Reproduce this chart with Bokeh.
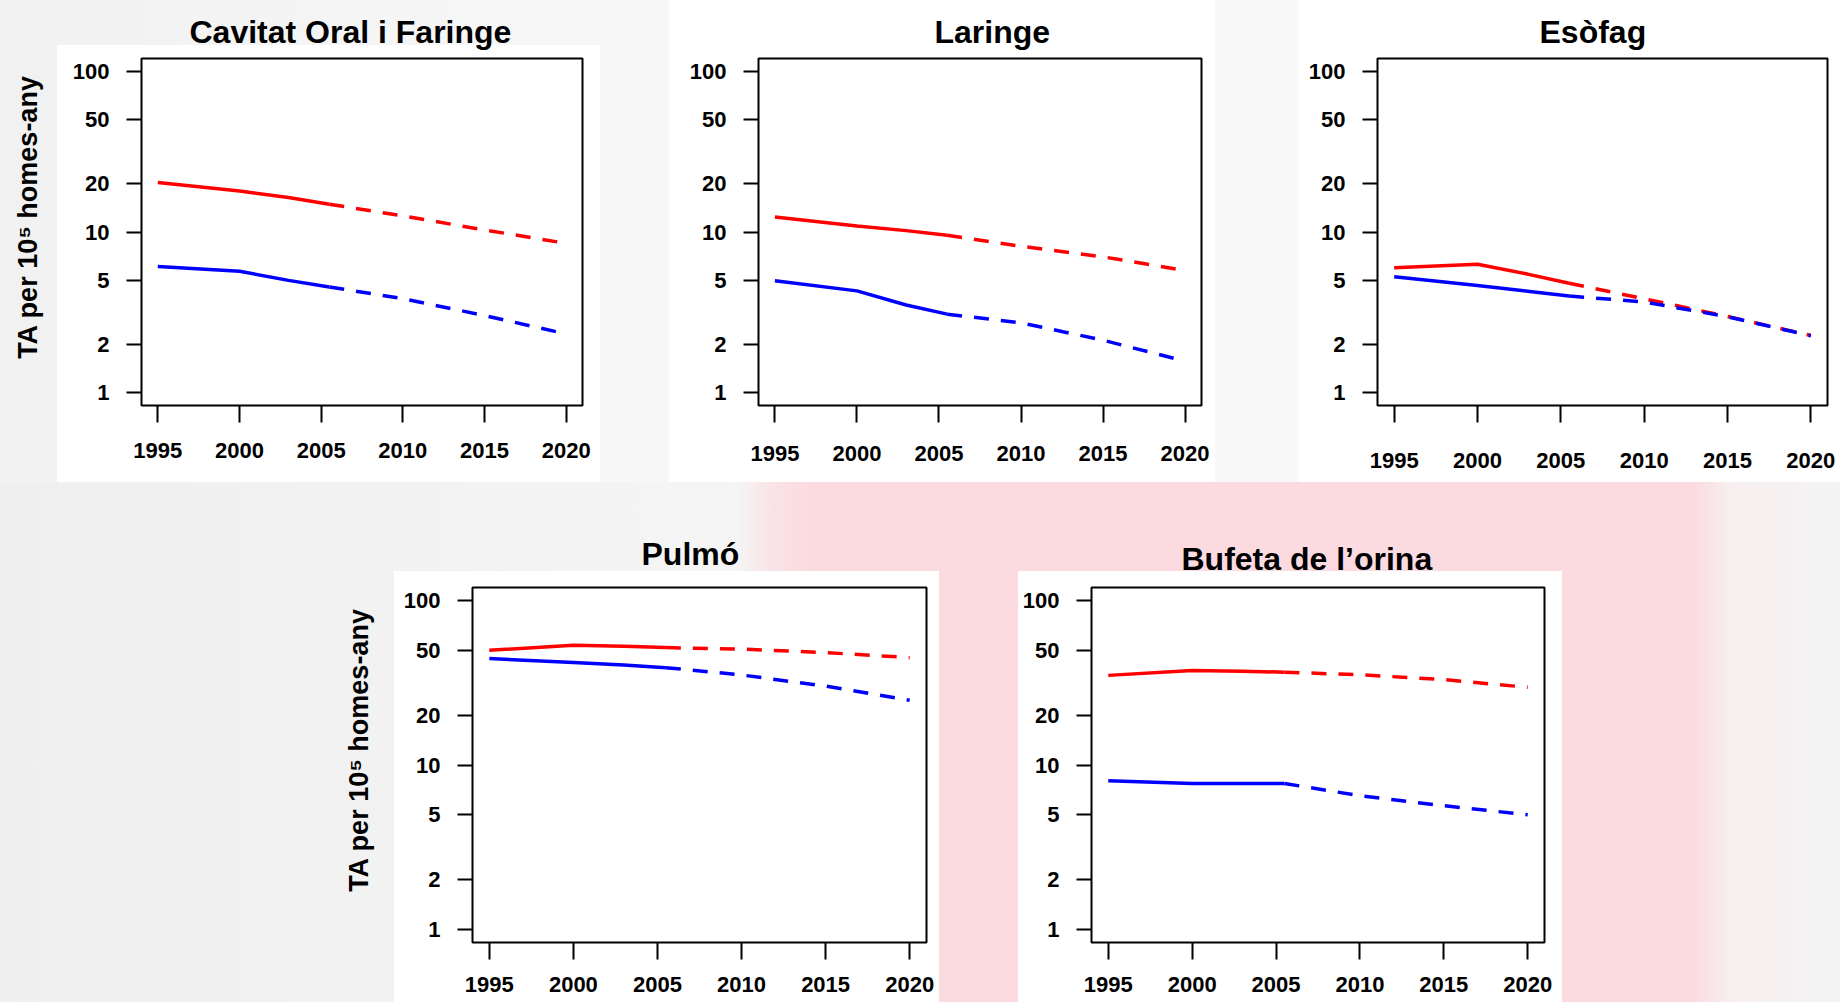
from bokeh.plotting import figure
from bokeh.layouts import row, column, Spacer
from bokeh.models import Range1d, FixedTicker
from bokeh.embed import file_html
from bokeh.resources import INLINE

# ---------------- data ----------------
obs_years = [1995, 2000, 2003, 2005.5]
proj_years = [2005.5, 2010, 2015, 2020]

titles = ["Cavitat Oral i Faringe", "Laringe", "Esòfag", "Pulmó", "Bufeta de l’orina"]

oral_red_obs = [20.3, 18.0, 16.4, 14.9]
oral_red_proj = [14.9, 12.6, 10.3, 8.5]
oral_blue_obs = [6.1, 5.7, 5.0, 4.55]
oral_blue_proj = [4.55, 3.85, 3.02, 2.32]

laringe_red_obs = [12.4, 10.9, 10.2, 9.55]
laringe_red_proj = [9.55, 8.15, 7.0, 5.76]
laringe_blue_obs = [4.97, 4.30, 3.51, 3.08]
laringe_blue_proj = [3.08, 2.72, 2.12, 1.57]

esofag_red_obs = [6.0, 6.3, 5.47, 4.8]
esofag_red_proj = [4.8, 3.84, 2.98, 2.27]
esofag_blue_obs = [5.27, 4.64, 4.28, 3.99]
esofag_blue_proj = [3.99, 3.67, 2.97, 2.26]

pulmo_red_obs = [49.9, 53.6, 52.8, 51.8]
pulmo_red_proj = [51.8, 50.7, 48.3, 45.0]
pulmo_blue_obs = [44.4, 42.0, 40.6, 39.1]
pulmo_blue_proj = [39.1, 35.3, 30.2, 24.8]

bufeta_red_obs = [35.1, 37.6, 37.2, 36.7]
bufeta_red_proj = [36.7, 35.4, 33.1, 29.7]
bufeta_blue_obs = [8.02, 7.72, 7.72, 7.72]
bufeta_blue_proj = [7.72, 6.5, 5.65, 4.98]

x_ticks = [1995, 2000, 2005, 2010, 2015, 2020]
y_ticks = [1, 2, 5, 10, 20, 50, 100]
y_label = "TA per 10⁵ homes-any"
PAD = "\u00a0" * 4  # nudges the centred axis title upward, as in the original

FONT = "Liberation Sans"
RED = "#ff0000"
BLUE = "#0000ff"


def panel(title, series, bl, frame_w, br, bt, frame_h, bb,
          title_offset, title_standoff,
          ylabel=False, x_label_standoff=20, white_x=0, white_y=0):
    width = bl + frame_w + br
    height = bt + frame_h + bb
    p = figure(width=width, height=height, y_axis_type="log",
               x_range=Range1d(1994, 2021),
               y_range=Range1d(10 ** -0.08, 10 ** 2.08),
               output_backend="svg", toolbar_location=None,
               min_border_left=bl, min_border_top=bt,
               min_border_right=br, min_border_bottom=bb,
               styles={"background-image": "linear-gradient(#ffffff, #ffffff)",
                       "background-repeat": "no-repeat",
                       "background-position": f"{white_x}px {white_y}px",
                       "background-size": f"{width - white_x}px {height - white_y}px"})
    p.title.text = title
    p.title.align = "left"
    p.title.offset = title_offset
    p.title.vertical_align = "bottom"
    p.title.standoff = title_standoff
    p.title.text_font = FONT
    p.title.text_font_style = "bold"
    p.title.text_font_size = "32px"
    p.title.text_color = "black"
    p.outline_line_color = "black"
    p.outline_line_width = 2
    p.background_fill_color = "white"
    p.border_fill_color = None
    p.xgrid.visible = False
    p.ygrid.visible = False

    p.xaxis.ticker = FixedTicker(ticks=x_ticks)
    p.yaxis.ticker = FixedTicker(ticks=y_ticks)
    p.yaxis.major_label_overrides = {t: str(t) for t in y_ticks}
    for ax in (p.xaxis[0], p.yaxis[0]):
        ax.axis_line_color = None
        ax.minor_tick_line_color = None
        ax.major_tick_line_color = "black"
        ax.major_tick_line_width = 2
        ax.major_tick_in = 0
        ax.major_label_text_font = FONT
        ax.major_label_text_font_style = "bold"
        ax.major_label_text_font_size = "22px"
        ax.major_label_text_color = "black"
    p.xaxis.major_tick_out = 17
    p.yaxis.major_tick_out = 15
    p.xaxis.major_label_standoff = x_label_standoff
    p.yaxis.major_label_standoff = 17
    if ylabel:
        p.yaxis.axis_label = PAD + y_label
        p.yaxis.axis_label_text_font = FONT
        p.yaxis.axis_label_text_font_style = "bold"
        p.yaxis.axis_label_text_font_size = "27px"
        p.yaxis.axis_label_text_color = "black"
        p.yaxis.axis_label_standoff = 27

    red_obs, red_proj, blue_obs, blue_proj = series
    p.line(obs_years, red_obs, line_color=RED, line_width=3.5)
    p.line(proj_years, red_proj, line_color=RED, line_width=3.5, line_dash="15 12")
    p.line(obs_years, blue_obs, line_color=BLUE, line_width=3.5)
    p.line(proj_years, blue_proj, line_color=BLUE, line_width=3.5, line_dash="15 12")
    return p


# Row 1 (page y 0..482); the plot frames of one row share top/bottom borders
H1 = 482
BT1, FH1 = 58, 347
BB1 = H1 - BT1 - FH1
p1 = panel(titles[0], (oral_red_obs, oral_red_proj, oral_blue_obs, oral_blue_proj),
           bl=141, frame_w=441, br=18, bt=BT1, frame_h=FH1, bb=BB1,
           title_offset=48, title_standoff=17,
           ylabel=True, x_label_standoff=20, white_x=57, white_y=45)
p2 = panel(titles[1], (laringe_red_obs, laringe_red_proj, laringe_blue_obs, laringe_blue_proj),
           bl=89, frame_w=443, br=14, bt=BT1, frame_h=FH1, bb=BB1,
           title_offset=176, title_standoff=17, x_label_standoff=23)
p3 = panel(titles[2], (esofag_red_obs, esofag_red_proj, esofag_blue_obs, esofag_blue_proj),
           bl=78, frame_w=450, br=13, bt=BT1, frame_h=FH1, bb=BB1,
           title_offset=162, title_standoff=17, x_label_standoff=30)

# Row 2 (page y 482..1002)
H2 = 520
BT2, FH2 = 105, 355
BB2 = H2 - BT2 - FH2
p4 = panel(titles[3], (pulmo_red_obs, pulmo_red_proj, pulmo_blue_obs, pulmo_blue_proj),
           bl=142, frame_w=454, br=13, bt=BT2, frame_h=FH2, bb=BB2,
           title_offset=169, title_standoff=32,
           ylabel=True, x_label_standoff=17, white_x=64, white_y=89)
p5 = panel(titles[4], (bufeta_red_obs, bufeta_red_proj, bufeta_blue_obs, bufeta_blue_proj),
           bl=73, frame_w=453, br=18, bt=BT2, frame_h=FH2, bb=BB2,
           title_offset=90, title_standoff=21, x_label_standoff=17,
           white_x=0, white_y=89)

r1 = row(p1, Spacer(width=669 - p1.width, height=H1), p2,
         Spacer(width=1299 - (669 + p2.width), height=H1), p3,
         styles={"background": "linear-gradient(to right, #f1f1f1 0%, #f7f7f7 30%, #fafafa 100%)"})
r2 = row(Spacer(width=330, height=H2), p4,
         Spacer(width=1018 - (330 + p4.width), height=H2), p5,
         Spacer(width=1840 - (1018 + p5.width), height=H2),
         styles={"background": "linear-gradient(to right, #efefef 0%, #f5f5f5 40%, #f9e3e6 42%, #fbdbe0 44%, #fbdbe0 92%, #f7eeef 94%, #f4f4f4 100%)"})
layout = column(r1, r2)

open("out.html", "w").write(file_html(layout, INLINE))
